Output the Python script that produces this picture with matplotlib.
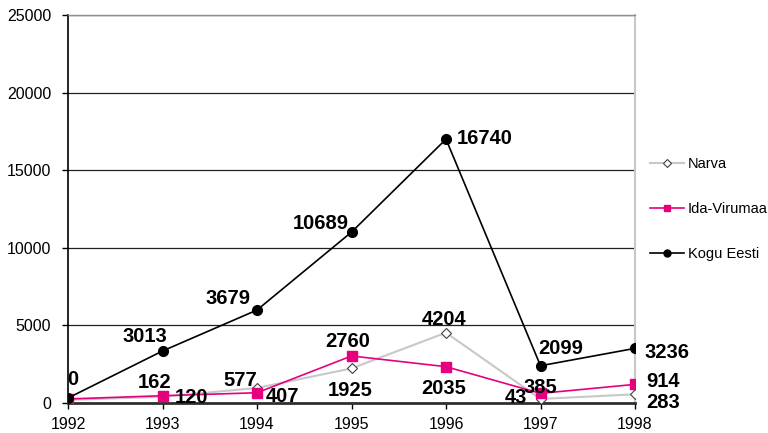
import matplotlib
matplotlib.use("Agg")
import matplotlib.pyplot as plt
from matplotlib.lines import Line2D

plt.rcParams['font.family'] = ['Liberation Sans', 'DejaVu Sans']

years = [1992, 1993, 1994, 1995, 1996, 1997, 1998]

narva = [200, 400, 970, 2230, 4530, 260, 560]
ida_virumaa = [260, 470, 660, 3030, 2340, 620, 1200]
kogu_eesti = [320, 3350, 5990, 11010, 17000, 2400, 3520]

narva_labels = [None, 120, 577, 1925, 4204, 43, 283]
ida_labels = [None, 162, 407, 2760, 2035, 385, 914]
kogu_labels = [0, 3013, 3679, 10689, 16740, 2099, 3236]

# label offsets in pixels (dx, dy up)
narva_off = [None, (29.5, 1), (-17, 9), (-1.5, -20), (-2, 15), (-24.5, 3), (28, -6)]
ida_off = [None, (-7.5, 15), (26, -2), (-3.5, 16), (-2, -20), (0, 8), (28, 5)]
kogu_off = [(5, 21), (-17.5, 17), (-29, 14), (-30.5, 11), (39, 3), (20.5, 19), (32, -2)]

fig = plt.figure(figsize=(7.68, 4.33), dpi=100)
ax = fig.add_axes([68/768, 1-403/433, (635-68)/768, (403-15)/433])

ax.plot(years, narva, color='#c8c8c8', lw=1.5, marker='D', markersize=5.5,
        markerfacecolor='white', markeredgecolor='#404040', markeredgewidth=0.8,
        label='Narva', zorder=3)
ax.plot(years, ida_virumaa, color='#e6007e', lw=1.2, marker='s', markersize=7,
        markerfacecolor='#e6007e', markeredgecolor='#e6007e', label='Ida-Virumaa', zorder=4)
ax.plot(years, kogu_eesti, color='black', lw=1.2, marker='o', markersize=7,
        markerfacecolor='black', label='Kogu Eesti', zorder=5)

for vals, labs, offs in [(narva, narva_labels, narva_off),
                         (ida_virumaa, ida_labels, ida_off),
                         (kogu_eesti, kogu_labels, kogu_off)]:
    for x, v, lab, off in zip(years, vals, labs, offs):
        if lab is None:
            continue
        ax.annotate(str(lab), xy=(x, v), xytext=off, textcoords='offset pixels',
                    ha='center', va='center_baseline', fontsize=14.5, fontweight='bold',
                    annotation_clip=False, zorder=6)

ax.set_xlim(1992, 1998)
ax.set_ylim(0, 25000)
ax.set_xticks(years)
ax.set_yticks(range(0, 25001, 5000))
ax.tick_params(axis='both', labelsize=11.5, direction='out', length=4, width=1, color='black')
ax.tick_params(axis='y', pad=8)
ax.tick_params(axis='x', pad=6)
ax.yaxis.grid(True, color='#202020', lw=0.9)
ax.set_axisbelow(True)
ax.spines['left'].set_color('black')
ax.spines['left'].set_linewidth(1.2)
ax.spines['bottom'].set_color('#303030')
ax.spines['bottom'].set_linewidth(2)
ax.spines['right'].set_color('#c8c8c8')
ax.spines['right'].set_linewidth(1.5)
ax.spines['top'].set_color('#909090')
ax.spines['top'].set_linewidth(1)

handles = [
    Line2D([], [], color='#c8c8c8', lw=1.5, marker='D', markersize=4,
           markerfacecolor='white', markeredgecolor='#404040', markeredgewidth=0.8),
    Line2D([], [], color='#e6007e', lw=1.2, marker='s', markersize=5, markerfacecolor='#e6007e'),
    Line2D([], [], color='black', lw=1.2, marker='o', markersize=5, markerfacecolor='black'),
]
fig.legend(handles, ['Narva', 'Ida-Virumaa', 'Kogu Eesti'], loc='center left',
           bbox_to_anchor=(650/768, 1-209/433), frameon=False, fontsize=10.5,
           labelspacing=2.1, handlelength=2.3, handletextpad=0.3,
           borderpad=0, borderaxespad=0)

fig.savefig('out.png', dpi=100)
